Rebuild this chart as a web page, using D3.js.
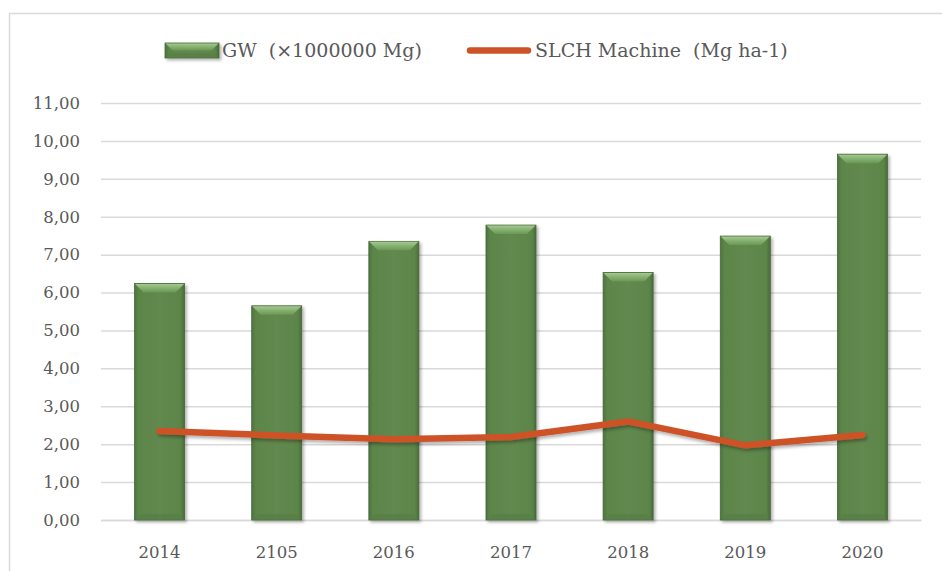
<!DOCTYPE html>
<html>
<head>
<meta charset="utf-8">
<script src="https://cdn.jsdelivr.net/npm/d3@7"></script>
<style>
  html, body { margin: 0; padding: 0; background: #ffffff; }
  svg { display: block; }
  text { font-family: "DejaVu Serif", "Liberation Serif", serif; fill: #595959; }
  .legend text { white-space: pre; }
</style>
</head>
<body>
<svg id="chart" width="942" height="571"></svg>
<script>
// Yearly values
const years = ["2014", "2105", "2016", "2017", "2018", "2019", "2020"];
const gwValues = [6.24, 5.65, 7.35, 7.78, 6.53, 7.49, 9.65];      // GW (×1000000 Mg)
const slchValues = [2.35, 2.23, 2.13, 2.19, 2.60, 1.97, 2.24];     // SLCH Machine (Mg ha-1)
const yTicks = [0, 1, 2, 3, 4, 5, 6, 7, 8, 9, 10, 11];
const seriesNames = ["GW  (×1000000 Mg)", "SLCH Machine  (Mg ha-1)"];

const W = 942, H = 571;
const plot = { left: 101, right: 921, top: 103, bottom: 520 };

const svg = d3.select("#chart");
const defs = svg.append("defs");

// Bar body gradient (darker edges, lighter middle)
const bodyGrad = defs.append("linearGradient").attr("id", "barBody")
  .attr("x1", "0").attr("x2", "1").attr("y1", "0").attr("y2", "0");
[[0, "#4e733e"], [0.08, "#5c8549"], [0.5, "#62894f"], [0.92, "#5c8549"], [1, "#4a6c3a"]]
  .forEach(([o, c]) => bodyGrad.append("stop").attr("offset", o).attr("stop-color", c));

const topGrad = defs.append("linearGradient").attr("id", "barTop")
  .attr("x1", "0").attr("x2", "0").attr("y1", "0").attr("y2", "1");
[[0, "#a4c98e"], [0.4, "#8ab575"], [1, "#6a9656"]]
  .forEach(([o, c]) => topGrad.append("stop").attr("offset", o).attr("stop-color", c));

const shadow = defs.append("filter").attr("id", "shadow")
  .attr("x", "-20%").attr("y", "-20%").attr("width", "150%").attr("height", "150%");
shadow.append("feDropShadow").attr("dx", 2).attr("dy", 2).attr("stdDeviation", 1.8)
  .attr("flood-color", "#000").attr("flood-opacity", 0.3);

const lineShadow = defs.append("filter").attr("id", "lineShadow")
  .attr("x", "-5%").attr("y", "-50%").attr("width", "110%").attr("height", "200%");
lineShadow.append("feDropShadow").attr("dx", 1.5).attr("dy", 2.5).attr("stdDeviation", 1.5)
  .attr("flood-color", "#000").attr("flood-opacity", 0.3);

// Chart frame
svg.append("line").attr("x1", 9.5).attr("x2", 9.5).attr("y1", 13.5).attr("y2", H)
  .attr("stroke", "#d9d9d9").attr("stroke-width", 1.5);
svg.append("line").attr("x1", 9.5).attr("x2", W).attr("y1", 13.5).attr("y2", 13.5)
  .attr("stroke", "#d9d9d9").attr("stroke-width", 1.5);

// Scales
const x = d3.scaleBand().domain(years).range([plot.left, plot.right])
  .paddingInner(0.573).paddingOuter(0.2865);
const y = d3.scaleLinear().domain([0, 11]).range([plot.bottom, plot.top]);

// Gridlines and y labels
const yAxis = d3.axisLeft(y).tickValues(yTicks)
  .tickSize(-(plot.right - plot.left))
  .tickFormat(d => d3.format(".2f")(d).replace(".", ","));
const gy = svg.append("g").attr("transform", `translate(${plot.left},0)`).call(yAxis);
gy.select(".domain").remove();
gy.selectAll(".tick line").attr("stroke", "#d9d9d9").attr("stroke-width", 1.5);
gy.selectAll(".tick text").attr("x", -21).attr("font-size", 16.5).attr("fill", "#595959")
  .style("font-family", '"DejaVu Serif", serif');

// x labels
const xAxis = d3.axisBottom(x).tickSize(0).tickPadding(26);
const gx = svg.append("g").attr("transform", `translate(0,${plot.bottom})`).call(xAxis);
gx.select(".domain").attr("stroke", "#d9d9d9").attr("stroke-width", 1.5);
gx.selectAll(".tick text").attr("font-size", 16.5).attr("fill", "#595959")
  .style("font-family", '"DejaVu Serif", serif');

// Bars with bevel
function bevelBar(g, x0, top, w, bottom) {
  const b = Math.min(9, (bottom - top) / 2);
  g.append("rect").attr("x", x0).attr("y", top).attr("width", w).attr("height", bottom - top)
    .attr("fill", "url(#barBody)").attr("stroke", "#46663a").attr("stroke-width", 0.8)
    .attr("filter", "url(#shadow)");
  g.append("polygon")
    .attr("points", [[x0 + 0.5, top + 0.5], [x0 + w - 0.5, top + 0.5], [x0 + w - b, top + b], [x0 + b, top + b]].join(" "))
    .attr("fill", "url(#barTop)");
  const bb = Math.min(6, (bottom - top) / 3);
  g.append("polygon")
    .attr("points", [[x0 + 0.5, bottom - 0.5], [x0 + w - 0.5, bottom - 0.5], [x0 + w - bb, bottom - bb], [x0 + bb, bottom - bb]].join(" "))
    .attr("fill", "#587f46").attr("opacity", 0.8);
}
const bars = svg.append("g");
years.forEach((yr, i) => {
  bevelBar(bars, x(yr), y(gwValues[i]), x.bandwidth(), y(0));
});

// SLCH line
const line = d3.line()
  .x((d, i) => x(years[i]) + x.bandwidth() / 2)
  .y(d => y(d));
svg.append("path").datum(slchValues).attr("d", line)
  .attr("fill", "none").attr("stroke", "#cd5228").attr("stroke-width", 6.5)
  .attr("stroke-linecap", "round").attr("stroke-linejoin", "round")
  .attr("filter", "url(#lineShadow)");

// Legend
const lg = svg.append("g").attr("class", "legend");
bevelBar(lg, 165, 43, 54, 58);
lg.append("text").attr("x", 222).attr("y", 57).attr("font-size", 19).text(seriesNames[0]);
lg.append("line").attr("x1", 470).attr("x2", 528).attr("y1", 50.5).attr("y2", 50.5)
  .attr("stroke", "#cd5228").attr("stroke-width", 6.5).attr("stroke-linecap", "round");
lg.append("text").attr("x", 535).attr("y", 57).attr("font-size", 19).text(seriesNames[1]);
</script>
</body>
</html>
